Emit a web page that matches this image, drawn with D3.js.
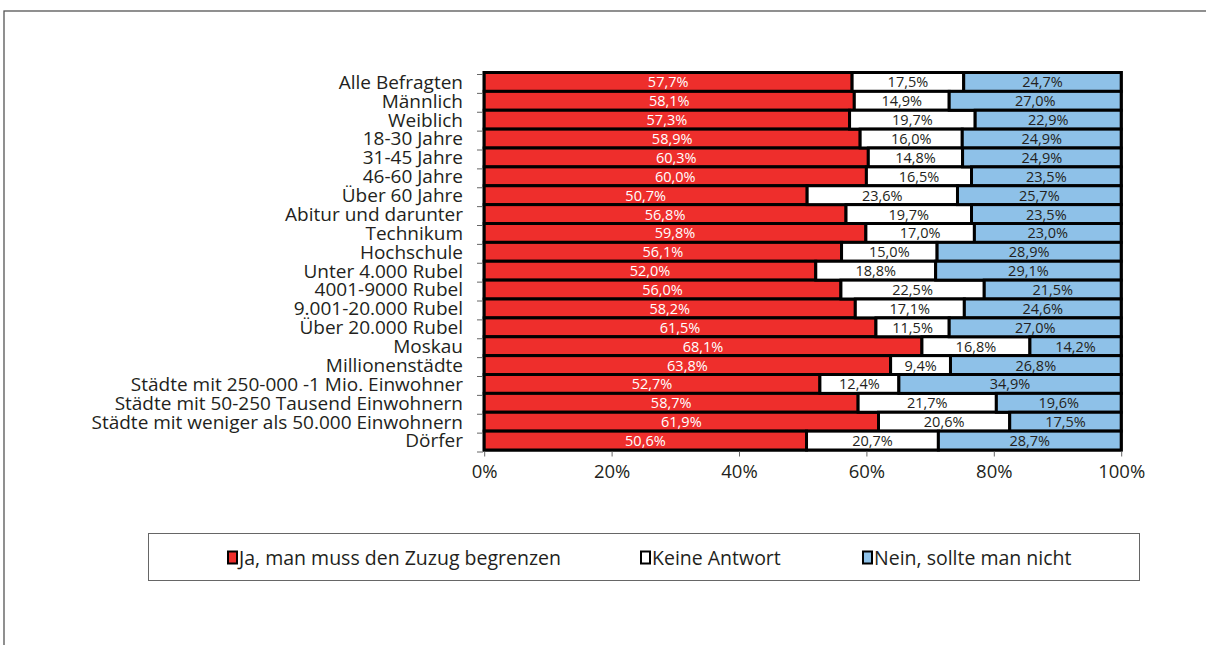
<!DOCTYPE html>
<html>
<head>
<meta charset="utf-8">
<script src="https://cdn.jsdelivr.net/npm/d3@7"></script>
<style>
  html, body { margin: 0; padding: 0; background: #fff; }
  svg { display: block; }
  text { font-family: "Open Sans", "Noto Sans", sans-serif; }
</style>
</head>
<body>
<svg id="chart" width="1206" height="645"></svg>
<script>
const categories = [
  "Alle Befragten", "Männlich", "Weiblich", "18-30 Jahre", "31-45 Jahre", "46-60 Jahre",
  "Über 60 Jahre", "Abitur und darunter", "Technikum", "Hochschule", "Unter 4.000 Rubel",
  "4001-9000 Rubel", "9.001-20.000 Rubel", "Über 20.000 Rubel", "Moskau", "Millionenstädte",
  "Städte mit 250-000 -1 Mio. Einwohner", "Städte mit 50-250 Tausend Einwohnern",
  "Städte mit weniger als 50.000 Einwohnern", "Dörfer"
];
const ja    = [57.7, 58.1, 57.3, 58.9, 60.3, 60.0, 50.7, 56.8, 59.8, 56.1, 52.0, 56.0, 58.2, 61.5, 68.1, 63.8, 52.7, 58.7, 61.9, 50.6];
const keine = [17.5, 14.9, 19.7, 16.0, 14.8, 16.5, 23.6, 19.7, 17.0, 15.0, 18.8, 22.5, 17.1, 11.5, 16.8,  9.4, 12.4, 21.7, 20.6, 20.7];
const nein  = [24.7, 27.0, 22.9, 24.9, 24.9, 23.5, 25.7, 23.5, 23.0, 28.9, 29.1, 21.5, 24.6, 27.0, 14.2, 26.8, 34.9, 19.6, 17.5, 28.7];
const seriesNames = ["Ja, man muss den Zuzug begrenzen", "Keine Antwort", "Nein, sollte man nicht"];
const seriesColors = ["#ee2e2c", "#ffffff", "#8ec1e8"];
const labelColors = ["#ffffff", "#231f20", "#231f20"];
const xTicks = [0, 0.2, 0.4, 0.6, 0.8, 1.0];

const svg = d3.select("#chart");
const W = 1206, H = 645;

// outer frame (extends past viewport on right/bottom)
svg.append("rect").attr("x", 4).attr("y", 11).attr("width", W + 10).attr("height", H + 10)
  .attr("fill", "none").attr("stroke", "#555").attr("stroke-width", 1.3);

const rows = categories.map((c, i) => {
  const vals = [ja[i], keine[i], nein[i]];
  const tot = d3.sum(vals);
  return { cat: c, vals, norm: vals.map(v => v / tot) };
});

const stack = d3.stack().keys([0, 1, 2]).value((d, k) => d.norm[k]);
const stacked = stack(rows);

const x = d3.scaleLinear().domain([0, 1]).range([484.2, 1121.2]);
const y = d3.scaleBand().domain(categories).range([72.5, 450]).padding(0);

// plot background (black gaps)
svg.append("rect")
  .attr("x", x(0) - 1.5).attr("y", y.range()[0] - 1.5)
  .attr("width", x(1) - x(0) + 3).attr("height", y.range()[1] - y.range()[0] + 3)
  .attr("fill", "#000");

const g = svg.append("g");
stacked.forEach((layer, si) => {
  g.selectAll(null).data(layer).enter().append("rect")
    .attr("x", d => x(d[0]))
    .attr("y", d => y(d.data.cat))
    .attr("width", d => x(d[1]) - x(d[0]))
    .attr("height", y.bandwidth())
    .attr("fill", seriesColors[si])
    .attr("stroke", "#000")
    .attr("stroke-width", 3);
});
stacked.forEach((layer, si) => {
  g.selectAll(null).data(layer).enter().append("text")
    .attr("x", d => (x(d[0]) + x(d[1])) / 2)
    .attr("y", d => y(d.data.cat) + y.bandwidth() / 2)
    .attr("dy", "0.38em")
    .attr("text-anchor", "middle")
    .attr("font-size", 14.5)
    .attr("fill", labelColors[si])
    .text(d => d.data.vals[si].toFixed(1).replace(".", ",") + "%");
});

// y axis: ticks at band boundaries + labels
const yTickPos = categories.map(c => y(c)).concat([y.range()[1]]);
svg.append("g").selectAll("line").data(yTickPos).enter().append("line")
  .attr("x1", 477).attr("x2", 483).attr("y1", d => d + 2).attr("y2", d => d + 2)
  .attr("stroke", "#666").attr("stroke-width", 1);
svg.append("g").selectAll("text").data(categories).enter().append("text")
  .attr("x", 463)
  .attr("y", d => y(d) + y.bandwidth() / 2)
  .attr("dy", "0.36em")
  .attr("text-anchor", "end")
  .attr("font-size", 19)
  .attr("fill", "#231f20")
  .text(d => d);

// x axis
const xAxis = d3.axisBottom(x).tickValues(xTicks).tickFormat(d3.format(".0%")).tickSize(5).tickPadding(8);
const ax = svg.append("g").attr("transform", `translate(0,${y.range()[1] + 1.5})`).call(xAxis);
ax.select(".domain").remove();
ax.selectAll(".tick line").attr("stroke", "#666");
ax.selectAll(".tick text").attr("font-size", 18.5).attr("fill", "#231f20")
  .attr("font-family", "'Open Sans', 'Noto Sans', sans-serif");

// legend
svg.append("rect").attr("x", 148.5).attr("y", 533.5).attr("width", 991).attr("height", 47)
  .attr("fill", "#fff").attr("stroke", "#666").attr("stroke-width", 1);
const legendX = [228, 641, 863];
const lg = svg.append("g");
seriesNames.forEach((n, i) => {
  lg.append("rect").attr("x", legendX[i]).attr("y", 551.5).attr("width", 9).attr("height", 12)
    .attr("fill", seriesColors[i]).attr("stroke", "#000").attr("stroke-width", 2);
  lg.append("text").attr("x", legendX[i] + 11).attr("y", 557.5).attr("dy", "0.36em")
    .attr("font-size", 19.5).attr("fill", "#231f20").text(n);
});
</script>
</body>
</html>
